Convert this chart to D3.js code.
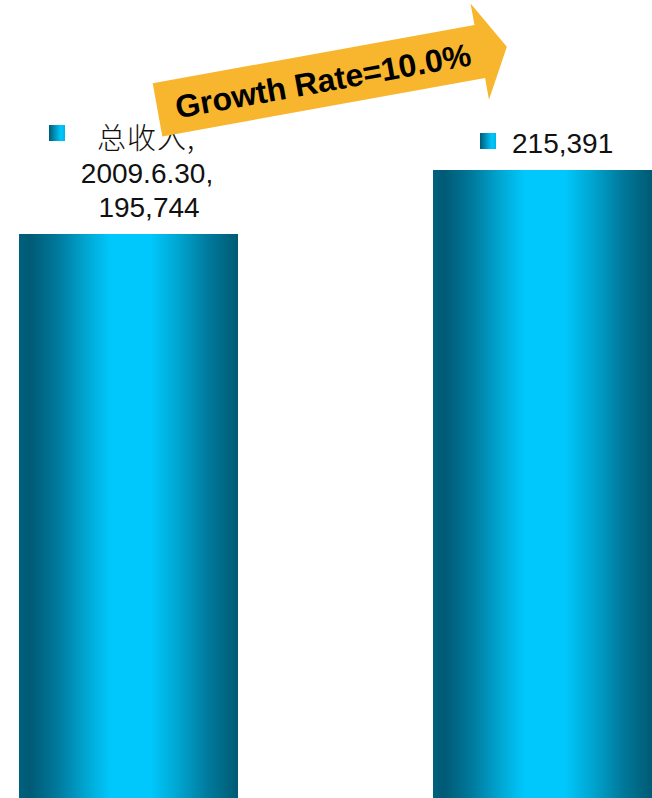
<!DOCTYPE html>
<html>
<head>
<meta charset="utf-8">
<script src="https://cdn.jsdelivr.net/npm/d3@7"></script>
<style>
  html, body { margin: 0; padding: 0; background: #ffffff; overflow: hidden; }
  svg { display: block; }
</style>
</head>
<body>
<svg id="chart" width="652" height="798"></svg>
<script>
// Revenue for the two half-year periods
const seriesName = "总收入";
const categories = ["2009.6.30", "2010.6.30"];
const values = [195744, 215391];

const W = 652, H = 798;
const svg = d3.select("#chart");

const x = d3.scaleBand()
  .domain(categories)
  .range([19, 652])
  .paddingInner(0.471)
  .paddingOuter(0);

// Value axis runs from zero; the baseline sits below the visible area
const y = d3.scaleLinear()
  .domain([0, d3.max(values)])
  .range([871.6, 170]);

const defs = svg.append("defs");

// Cylinder-like shading across each bar
const barGrad = defs.append("linearGradient")
  .attr("id", "barGrad")
  .attr("x1", "0%").attr("x2", "100%").attr("y1", "0%").attr("y2", "0%");
[
  [0, "#00617e"], [0.05, "#005a75"], [0.18, "#007a9e"], [0.3, "#00a4cf"],
  [0.42, "#00c8fc"], [0.6, "#00c8fc"], [0.73, "#00a4cf"], [0.87, "#00789a"],
  [1, "#005a73"]
].forEach(([o, c]) => barGrad.append("stop").attr("offset", o).attr("stop-color", c));

const keyGrad = defs.append("linearGradient")
  .attr("id", "keyGrad")
  .attr("x1", "0%").attr("x2", "100%").attr("y1", "0%").attr("y2", "0%");
[
  [0, "#005a75"], [0.35, "#0090b8"], [0.75, "#00c8fc"], [1, "#00b4e4"]
].forEach(([o, c]) => keyGrad.append("stop").attr("offset", o).attr("stop-color", c));

const data = categories.map((c, i) => ({ cat: c, value: values[i] }));

// Bars
svg.append("g")
  .selectAll("rect")
  .data(data)
  .join("rect")
  .attr("x", d => x(d.cat))
  .attr("y", d => y(d.value))
  .attr("width", x.bandwidth())
  .attr("height", d => y(0) - y(d.value))
  .attr("fill", "url(#barGrad)");

const fmt = d3.format(",");
const latin = "'Liberation Sans', Arial, sans-serif";
const cjk = "'Noto Sans CJK SC', sans-serif";

// Data label of the first bar: legend key, series name, category, value
const l0 = svg.append("g");
l0.append("rect")
  .attr("x", 49).attr("y", 125).attr("width", 16).attr("height", 16)
  .attr("fill", "url(#keyGrad)");
l0.append("text")
  .attr("x", 97).attr("y", 149)
  .attr("font-family", cjk).attr("font-size", 29).attr("font-weight", 300)
  .attr("letter-spacing", 1)
  .attr("fill", "#111")
  .text(seriesName + ",");
l0.append("text")
  .attr("x", 147).attr("y", 183)
  .attr("text-anchor", "middle")
  .attr("font-family", latin).attr("font-size", 28)
  .attr("fill", "#111")
  .text(data[0].cat + ",");
l0.append("text")
  .attr("x", 149).attr("y", 217)
  .attr("text-anchor", "middle")
  .attr("font-family", latin).attr("font-size", 28)
  .attr("fill", "#111")
  .text(fmt(data[0].value));

// Data label of the second bar: legend key and value
const l1 = svg.append("g");
l1.append("rect")
  .attr("x", 480).attr("y", 133).attr("width", 16).attr("height", 16)
  .attr("fill", "url(#keyGrad)");
l1.append("text")
  .attr("x", 512).attr("y", 153)
  .attr("font-family", latin).attr("font-size", 28)
  .attr("fill", "#111")
  .text(fmt(data[1].value));

// Growth arrow, drawn along its own axis then rotated into place
const growth = values[1] / values[0] - 1;
const arrow = svg.append("g")
  .attr("transform", "translate(152.7,83.3) rotate(-10.25)");
const arrowPts = [[0, 0], [327, 0], [327, -22], [355, 27], [328, 76], [328, 54], [0, 54]];
arrow.append("path")
  .attr("d", d3.line()(arrowPts) + "Z")
  .attr("fill", "#f8b62e");
arrow.append("text")
  .attr("x", 168).attr("y", 39)
  .attr("text-anchor", "middle")
  .attr("font-family", latin).attr("font-size", 32).attr("font-weight", "bold")
  .attr("fill", "#000")
  .text("Growth Rate=" + d3.format(".1%")(growth));
</script>
</body>
</html>
